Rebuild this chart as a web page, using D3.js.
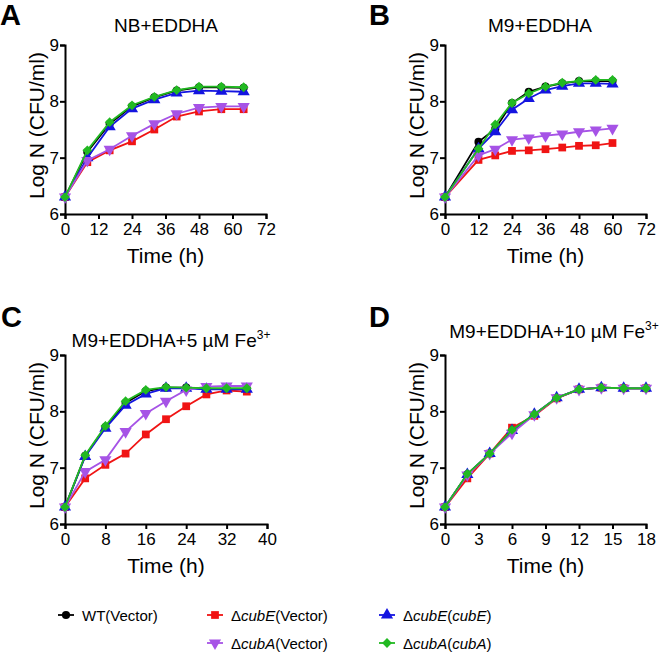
<!DOCTYPE html>
<html><head><meta charset="utf-8">
<script src="https://cdn.jsdelivr.net/npm/d3@7"></script>
<style>body{margin:0;background:#fff} svg{display:block} text{font-family:"Liberation Sans",Arial,sans-serif;fill:#000}</style>
</head><body><svg id="c" width="666" height="662"></svg>
<script>
// ---- data ----
const seriesKeys = ["WT", "dE", "dEcE", "dA", "dAcA"];
const seriesColors = ["#000000", "#f01414", "#1414e0", "#a653e6", "#22b922"];

const timeA = [0, 8, 16, 24, 32, 40, 48, 56, 64];
const A_WT   = [6.30, 7.10, 7.60, 7.91, 8.07, 8.19, 8.25, 8.25, 8.24];
const A_dE   = [6.30, 6.92, 7.13, 7.29, 7.50, 7.73, 7.82, 7.86, 7.86];
const A_dEcE = [6.30, 7.00, 7.55, 7.87, 8.03, 8.15, 8.19, 8.18, 8.17];
const A_dA   = [6.30, 6.95, 7.15, 7.39, 7.60, 7.78, 7.89, 7.91, 7.91];
const A_dAcA = [6.30, 7.13, 7.63, 7.93, 8.08, 8.20, 8.26, 8.26, 8.25];

const timeB = [0, 12, 18, 24, 30, 36, 42, 48, 54, 60];
const B_WT   = [6.30, 7.28, 7.51, 7.97, 8.17, 8.26, 8.32, 8.36, 8.36, 8.36];
const B_dE   = [6.30, 6.96, 7.04, 7.12, 7.13, 7.15, 7.18, 7.21, 7.22, 7.26];
const B_dEcE = [6.30, 7.16, 7.46, 7.85, 8.05, 8.20, 8.27, 8.32, 8.32, 8.31];
const B_dA   = [6.30, 7.04, 7.15, 7.32, 7.35, 7.39, 7.42, 7.46, 7.49, 7.52];
const B_dAcA = [6.30, 7.16, 7.59, 7.97, 8.14, 8.26, 8.33, 8.36, 8.38, 8.38];

const timeC = [0, 4, 8, 12, 16, 20, 24, 28, 32, 36];
const C_WT   = [6.30, 7.21, 7.72, 8.15, 8.36, 8.42, 8.42, 8.40, 8.40, 8.40];
const C_dE   = [6.30, 6.81, 7.05, 7.25, 7.59, 7.86, 8.09, 8.30, 8.37, 8.35];
const C_dEcE = [6.30, 7.20, 7.70, 8.11, 8.31, 8.41, 8.41, 8.39, 8.39, 8.39];
const C_dA   = [6.30, 6.93, 7.14, 7.64, 7.96, 8.18, 8.38, 8.44, 8.45, 8.45];
const C_dAcA = [6.30, 7.22, 7.74, 8.18, 8.38, 8.43, 8.42, 8.41, 8.41, 8.41];

const timeD = [0, 2, 4, 6, 8, 10, 12, 14, 16, 18];
const D_WT   = [6.30, 6.88, 7.25, 7.65, 7.94, 8.24, 8.39, 8.42, 8.41, 8.41];
const D_dE   = [6.30, 6.81, 7.25, 7.71, 7.92, 8.23, 8.39, 8.42, 8.41, 8.41];
const D_dEcE = [6.30, 6.88, 7.25, 7.66, 7.95, 8.24, 8.39, 8.42, 8.41, 8.41];
const D_dA   = [6.30, 6.87, 7.25, 7.61, 7.94, 8.24, 8.39, 8.42, 8.41, 8.41];
const D_dAcA = [6.30, 6.89, 7.25, 7.67, 7.95, 8.24, 8.39, 8.42, 8.41, 8.41];

const xTicksA = [0, 12, 24, 36, 48, 60, 72];
const xTicksB = [0, 12, 24, 36, 48, 60, 72];
const xTicksC = [0, 8, 16, 24, 32, 40];
const xTicksD = [0, 3, 6, 9, 12, 15, 18];
const yTicks = [6, 7, 8, 9];

// ---- layout ----
const svg = d3.select("#c");
const panels = [
  {letter:"A", lx:0, ly:25, title:"NB+EDDHA", sup:null, tx:166, ty:32,
   x0:65, x1:266, yTop:45, yBot:214, xMax:72, ticks:xTicksA, time:timeA,
   data:[A_WT, A_dE, A_dEcE, A_dA, A_dAcA]},
  {letter:"B", lx:369, ly:25, title:"M9+EDDHA", sup:null, tx:540, ty:32,
   x0:445, x1:646, yTop:45, yBot:214, xMax:72, ticks:xTicksB, time:timeB,
   data:[B_WT, B_dE, B_dEcE, B_dA, B_dAcA]},
  {letter:"C", lx:1, ly:327, title:"M9+EDDHA+5 µM Fe", sup:"3+", tx:171, ty:347,
   x0:65, x1:267, yTop:355, yBot:524, xMax:40, ticks:xTicksC, time:timeC,
   data:[C_WT, C_dE, C_dEcE, C_dA, C_dAcA]},
  {letter:"D", lx:369, ly:327, title:"M9+EDDHA+10 µM Fe", sup:"3+", tx:554, ty:338,
   x0:445, x1:646, yTop:355, yBot:524, xMax:18, ticks:xTicksD, time:timeD,
   data:[D_WT, D_dE, D_dEcE, D_dA, D_dAcA]}
];

function marker(sel, i, x, y, col) {
  const types = [d3.symbolCircle, d3.symbolSquare, d3.symbolTriangle, d3.symbolTriangle, d3.symbolSquare];
  const sizes = [52, 60, 64, 64, 48];
  const rot = [0, 0, 0, 180, 45];
  sel.append("path")
    .attr("d", d3.symbol().type(types[i]).size(sizes[i])())
    .attr("transform", `translate(${x},${y}) rotate(${rot[i]})`)
    .attr("fill", col);
}

panels.forEach(p => {
  const g = svg.append("g");
  const x = d3.scaleLinear().domain([0, p.xMax]).range([p.x0, p.x1]);
  const y = d3.scaleLinear().domain([6, 9]).range([p.yBot, p.yTop]);

  g.append("text").attr("x", p.lx).attr("y", p.ly).attr("font-size", 29)
    .attr("font-weight", "bold").text(p.letter);
  const t = g.append("text").attr("x", p.tx).attr("y", p.ty).attr("font-size", 19)
    .attr("text-anchor", "middle").text(p.title);
  if (p.sup) t.append("tspan").attr("font-size", 12).attr("dy", -8).text(p.sup);

  const xa = g.append("g").attr("transform", `translate(0,${p.yBot})`)
    .call(d3.axisBottom(x).tickValues(p.ticks).tickSize(5).tickPadding(4).tickFormat(d3.format("d")));
  const ya = g.append("g").attr("transform", `translate(${p.x0},0)`)
    .call(d3.axisLeft(y).tickValues(yTicks).tickSize(5).tickPadding(1).tickFormat(d3.format("d")));
  [xa, ya].forEach(a => {
    a.select(".domain").attr("stroke", "#000").attr("stroke-width", 2);
    a.selectAll(".tick line").attr("stroke", "#000").attr("stroke-width", 2);
    a.selectAll(".tick text").attr("font-size", 17).attr("font-family", '"Liberation Sans",Arial,sans-serif').attr("fill", "#000");
  });
  g.append("text").attr("x", (p.x0 + p.x1) / 2).attr("y", p.yBot + 49)
    .attr("font-size", 21).attr("text-anchor", "middle").text("Time (h)");
  g.append("text").attr("transform", `translate(${p.x0 - 21},${(p.yTop + p.yBot) / 2 - 4}) rotate(-90)`)
    .attr("font-size", 21).attr("text-anchor", "middle").text("Log N (CFU/ml)");

  const line = d3.line().x((d, j) => x(p.time[j])).y(d => y(d));
  p.data.forEach((vals, i) => {
    g.append("path").attr("d", line(vals)).attr("fill", "none")
      .attr("stroke", seriesColors[i]).attr("stroke-width", 1.8);
    vals.forEach((v, j) => marker(g, i, x(p.time[j]), y(v), seriesColors[i]));
  });
});

// ---- legend ----
const legendItems = [
  {i:0, x:58, y:615, parts:[["WT(Vector)", false]]},
  {i:1, x:207, y:615, parts:[["Δ", false], ["cubE", true], ["(Vector)", false]]},
  {i:2, x:379, y:615, parts:[["Δ", false], ["cubE", true], ["(", false], ["cubE", true], [")", false]]},
  {i:3, x:207, y:643, parts:[["Δ", false], ["cubA", true], ["(Vector)", false]]},
  {i:4, x:379, y:643, parts:[["Δ", false], ["cubA", true], ["(", false], ["cubA", true], [")", false]]}
];
legendItems.forEach(it => {
  const col = seriesColors[it.i];
  svg.append("line").attr("x1", it.x).attr("x2", it.x + 16).attr("y1", it.y).attr("y2", it.y)
    .attr("stroke", col).attr("stroke-width", 1.8);
  marker(svg, it.i, it.x + 8, it.y, col);
  const t = svg.append("text").attr("x", it.x + 24).attr("y", it.y + 6).attr("font-size", 15);
  it.parts.forEach(pt => t.append("tspan").attr("font-style", pt[1] ? "italic" : "normal").text(pt[0]));
});
</script></body></html>
